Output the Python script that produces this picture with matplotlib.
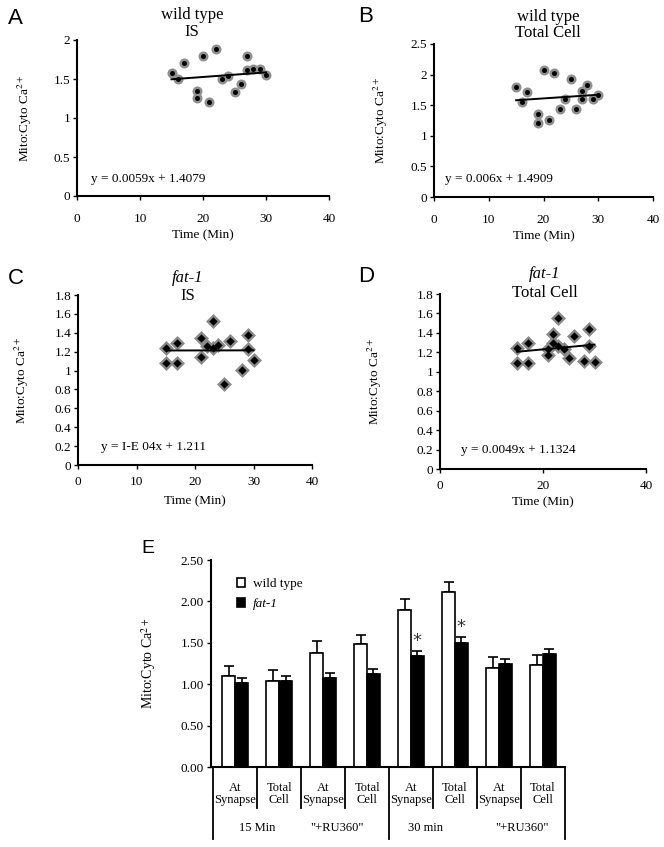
"""Mito:Cyto Ca2+ ratio over time (A-D) and per condition (E)."""

import matplotlib
matplotlib.use('Agg')
import matplotlib.pyplot as plt
from matplotlib.ticker import FuncFormatter

plt.rcParams['font.family'] = ['Liberation Serif', 'DejaVu Serif']
plt.rcParams['mathtext.fontset'] = 'stix'

W, H = 664, 847

# scatter data (minutes, ratio)
wt_time = [15, 16, 17, 19, 19, 20, 21, 22, 23, 24, 25, 26, 27, 27, 28, 29, 30]
wt_is = [1.58, 1.50, 1.70, 1.35, 1.25, 1.80, 1.20, 1.89, 1.50, 1.54, 1.33,
         1.44, 1.80, 1.61, 1.63, 1.63, 1.55]
wt_total = [1.79, 1.55, 1.71, 1.35, 1.21, 2.08, 1.26, 2.02, 1.43, 1.60, 1.93,
            1.44, 1.73, 1.60, 1.83, 1.60, 1.66]

fat_is_time = [15, 15, 17, 17, 21, 21, 22, 23, 23, 24, 25, 26, 28, 29, 29, 30]
fat_is = [1.24, 1.08, 1.29, 1.08, 1.34, 1.14, 1.26, 1.53, 1.24, 1.27, 0.86,
          1.31, 1.01, 1.38, 1.23, 1.11]
fat_total_time = [15, 15, 17, 17, 21, 21, 22, 22, 23, 23, 24, 25, 26, 28, 29,
                  29, 30]
fat_total = [1.24, 1.09, 1.30, 1.09, 1.23, 1.17, 1.39, 1.30, 1.55, 1.27, 1.23,
             1.14, 1.37, 1.11, 1.44, 1.27, 1.10]

fit_slope = [0.0059, 0.006, 1e-4, 0.0049]
fit_icept = [1.4079, 1.4909, 1.211, 1.1324]
fit_text = ['y = 0.0059x + 1.4079', 'y = 0.006x + 1.4909',
            'y = I-E 04x + 1.211', 'y = 0.0049x + 1.1324']

# bar data
cat_row1 = ['At\nSynapse', 'Total\nCell'] * 4
cat_row2 = ['15 Min', '"+RU360"', '30 min', '"+RU360"']
wt_mean = [1.10, 1.04, 1.38, 1.48, 1.90, 2.11, 1.20, 1.23]
wt_err = [0.12, 0.13, 0.14, 0.12, 0.13, 0.12, 0.13, 0.12]
fat_mean = [1.02, 1.04, 1.08, 1.12, 1.34, 1.50, 1.24, 1.36]
fat_err = [0.06, 0.06, 0.06, 0.06, 0.06, 0.07, 0.06, 0.06]
signif = [False, False, False, False, True, True, False, False]

YLAB = 'Mito:Cyto Ca$^{2+}$'
FS = 9.5


def px_axes(fig, x0, x1, y0, y1):
    # pixel box (left, right, top, bottom) -> axes
    return fig.add_axes([x0 / W, 1 - y1 / H, (x1 - x0) / W, (y1 - y0) / H])


def fig_text(fig, x, y, s, **kw):
    fig.text(x / W, 1 - y / H, s, **kw)


def style(ax):
    for side in ['top', 'right']:
        ax.spines[side].set_visible(False)
    for side in ['left', 'bottom']:
        ax.spines[side].set_linewidth(1.5)
    ax.tick_params(direction='out', length=3, width=1, labelsize=FS,
                   pad=2)


def num_fmt(v, _):
    return ('%g' % round(v, 2))


def scatter_panel(fig, box, x, y, k, marker, ymax, ystep, xstep, ylab_x,
                  xpad, xlab_pad):
    ax = px_axes(fig, *box)
    style(ax)
    if marker == 'o':
        ax.scatter(x, y, s=52, marker='o', color='#8f8f8f', lw=0, zorder=2)
        ax.scatter(x, y, s=13, marker='o', color='black', lw=0, zorder=3)
    else:
        ax.scatter(x, y, s=58, marker='D', color='#8a8a8a', lw=0, zorder=2)
        ax.scatter(x, y, s=18, marker='D', color='black', lw=0, zorder=3)
    x0, x1 = min(x), max(x)
    ax.plot([x0, x1], [fit_icept[k] + fit_slope[k] * x0,
                       fit_icept[k] + fit_slope[k] * x1],
            color='black', lw=1.4, zorder=4)
    ax.set_xlim(0, 40)
    ax.set_ylim(0, ymax)
    ax.set_xticks(range(0, 41, xstep))
    n = int(round(ymax / ystep))
    ax.set_yticks([i * ystep for i in range(n + 1)])
    ax.yaxis.set_major_formatter(FuncFormatter(num_fmt))
    ax.tick_params(axis='x', pad=xpad)
    ax.set_ylabel(YLAB, fontsize=FS)
    ax.yaxis.set_label_coords(ylab_x, 0.5)
    ax.set_xlabel('Time (Min)', fontsize=FS, labelpad=xlab_pad)
    return ax


def main():
    fig = plt.figure(figsize=(W / 100, H / 100), dpi=100)

    ax = scatter_panel(fig, (77, 329, 40, 196), wt_time, wt_is, 0, 'o',
                       2, 0.5, 10, -0.17, 9, 3)
    ax.text(0.055, 0.09, fit_text[0], transform=ax.transAxes, fontsize=FS)
    fig_text(fig, 192, 15, 'wild type', ha='center', va='center',
             fontsize=12)
    fig_text(fig, 192, 32, 'IS', ha='center', va='center', fontsize=12)

    ax = scatter_panel(fig, (434, 653, 44, 197), wt_time, wt_total, 1, 'o',
                       2.5, 0.5, 10, -0.2, 9, 3)
    ax.text(0.05, 0.1, fit_text[1], transform=ax.transAxes, fontsize=FS)
    fig_text(fig, 548, 17, 'wild type', ha='center', va='center',
             fontsize=12)
    fig_text(fig, 548, 33, 'Total Cell', ha='center', va='center',
             fontsize=12)

    ax = scatter_panel(fig, (78, 312, 295, 465), fat_is_time, fat_is, 2, 'D',
                       1.8, 0.2, 10, -0.2, 5, 5)
    ax.text(0.1, 0.09, fit_text[2], transform=ax.transAxes, fontsize=FS)
    fig_text(fig, 188, 278, 'fat-1', ha='center', va='center', fontsize=12,
             style='italic')
    fig_text(fig, 188, 296, 'IS', ha='center', va='center', fontsize=12)

    ax = scatter_panel(fig, (440, 646, 294, 469), fat_total_time, fat_total,
                       3, 'D', 1.8, 0.2, 20, -0.27, 5, 3)
    ax.text(0.1, 0.09, fit_text[3], transform=ax.transAxes, fontsize=FS)
    fig_text(fig, 545, 274, 'fat-1', ha='center', va='center', fontsize=12,
             style='italic')
    fig_text(fig, 545, 293, 'Total Cell', ha='center', va='center',
             fontsize=12)

    for lab, x, y in [('A', 8, 18), ('B', 358, 17), ('C', 8, 278),
                      ('D', 358, 277)]:
        fig_text(fig, x, y, lab, family=['Liberation Sans', 'DejaVu Sans'],
                 fontsize=16, va='center')
    fig_text(fig, 141, 548, 'E', family=['Liberation Sans', 'DejaVu Sans'],
             fontsize=14, va='center')

    # panel E
    ax = px_axes(fig, 211, 565, 560, 767)
    style(ax)
    xs = [i + 0.5 for i in range(len(wt_mean))]
    bw = 0.29
    wx = [x - bw / 2 for x in xs]
    fx = [x + bw / 2 for x in xs]
    ax.bar(wx, wt_mean, bw, color='white', edgecolor='black', lw=1.2,
           label='wild type', zorder=2)
    ax.bar(fx, fat_mean, bw, color='black', edgecolor='black', lw=1.2,
           label='fat-1', zorder=2)
    ax.errorbar(wx, wt_mean, yerr=[[0] * len(wt_err), wt_err], fmt='none',
                ecolor='black', elinewidth=1.2, capsize=3.5, capthick=1.2,
                zorder=1)
    ax.errorbar(fx, fat_mean, yerr=[[0] * len(fat_err), fat_err], fmt='none',
                ecolor='black', elinewidth=1.2, capsize=3.5, capthick=1.2,
                zorder=1)
    for x, m, e, s in zip(fx, fat_mean, fat_err, signif):
        if s:
            ax.text(x, m + e + 0.01, '*', ha='center', va='bottom',
                    fontsize=13, family=['DejaVu Sans'], color='#333333')
    ax.set_xlim(-0.05, len(xs))
    ax.set_ylim(0, 2.5)
    ax.set_yticks([0, 0.5, 1.0, 1.5, 2.0, 2.5])
    ax.yaxis.set_major_formatter(FuncFormatter(lambda v, _: '%.2f' % v))
    ax.set_xticks([])
    ax.set_ylabel(YLAB, fontsize=FS + 0.5)
    ax.yaxis.set_label_coords(-0.15, 0.5)
    leg = ax.legend(loc='upper left', bbox_to_anchor=(0.04, 0.97),
                    frameon=False, fontsize=FS, handlelength=0.6,
                    handleheight=0.6, handletextpad=0.6, labelspacing=0.6)
    leg.get_texts()[1].set_style('italic')

    # category table under the axis
    tr = ax.get_xaxis_transform()
    for i in range(len(xs) + 1):
        low = -0.35 if i % 4 == 0 else -0.2
        ax.plot([i, i], [0, low], transform=tr, color='black', lw=1.3,
                clip_on=False)
    for x, lab in zip(xs, cat_row1):
        ax.text(x, -0.13, lab, transform=tr, ha='center', va='center',
                fontsize=9, linespacing=1.0)
    for x, lab in zip([1.0, 2.82, 4.83, 7.02], cat_row2):
        ax.text(x, -0.295, lab, transform=tr, ha='center', va='center',
                fontsize=9)

    fig.savefig('out.png', dpi=100)


if __name__ == '__main__':
    main()
